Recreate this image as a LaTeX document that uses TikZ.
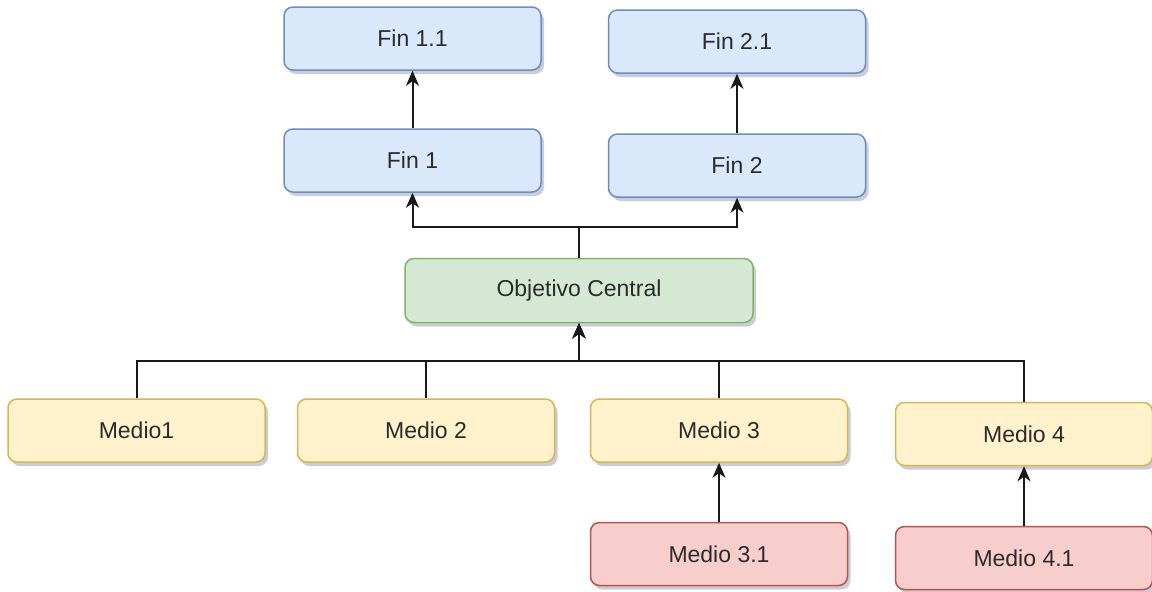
\documentclass[tikz,border=0pt]{standalone}
\usepackage{fontspec}
\setmainfont{Liberation Sans}
\usetikzlibrary{arrows.meta,shadows}
\definecolor{bfill}{HTML}{DAE8FC}\definecolor{bdraw}{HTML}{6C8EBF}
\definecolor{gfill}{HTML}{D5E8D4}\definecolor{gdraw}{HTML}{82B366}
\definecolor{yfill}{HTML}{FFF2CC}\definecolor{ydraw}{HTML}{D6B656}
\definecolor{rfill}{HTML}{F8CECC}\definecolor{rdraw}{HTML}{B85450}
\definecolor{txt}{HTML}{2B2B2B}
\definecolor{shad}{HTML}{8A90A8}
\tikzset{
  x=1pt,y=-1pt,
  box/.style={rectangle,rounded corners=9pt,line width=1.5pt,minimum width=257pt,minimum height=63pt,
    inner sep=0pt,text=txt,font=\fontsize{23}{26}\selectfont,
    drop shadow={shadow xshift=3pt,shadow yshift=-4pt,fill=shad,opacity=0.45}},
  blue/.style={box,fill=bfill,draw=bdraw},
  green/.style={box,fill=gfill,draw=gdraw,minimum width=348pt,minimum height=64pt},
  yellow/.style={box,fill=yfill,draw=ydraw},
  red/.style={box,fill=rfill,draw=rdraw},
  conn/.style={line width=2pt,black!90,-{Stealth[length=15pt,width=13pt,inset=4.5pt]}}
}
\begin{document}
\begin{tikzpicture}
\fill[white] (0,0) rectangle (1152,592);
\useasboundingbox (0,0) rectangle (1152,592);
\node[blue] (f11) at (412.5,38.5) {Fin 1.1};
\node[blue] (f21) at (737,41.5) {Fin 2.1};
\node[blue] (f1) at (412.5,160.5) {Fin 1};
\node[blue] (f2) at (737,165.5) {Fin 2};
\node[green] (obj) at (579,290.5) {Objetivo Central};
\node[yellow] (m1) at (136.5,430.5) {Medio1};
\node[yellow] (m2) at (426,430.5) {Medio 2};
\node[yellow] (m3) at (719,430.5) {Medio 3};
\node[yellow] (m4) at (1024,434) {Medio 4};
\node[red] (m31) at (719,554) {Medio 3.1};
\node[red] (m41) at (1024,558) {Medio 4.1};
\coordinate (jt) at (579,226.5);
\coordinate (jb) at (579,360.5);
\draw[conn] (f1.north) -- (f11.south);
\draw[conn] (f2.north) -- (f21.south);
\draw[conn] (obj.north) -- (jt) -| (f1.south);
\draw[conn] (jt) -| (f2.south);
\draw[conn] (m1.north) |- (jb) -- (obj.south);
\draw[conn] (m2.north) |- (jb) -- (obj.south);
\draw[conn] (m3.north) |- (jb) -- (obj.south);
\draw[conn] (m4.north) |- (jb) -- (obj.south);
\draw[conn] (m31.north) -- (m3.south);
\draw[conn] (m41.north) -- (m4.south);
\end{tikzpicture}
\end{document}
